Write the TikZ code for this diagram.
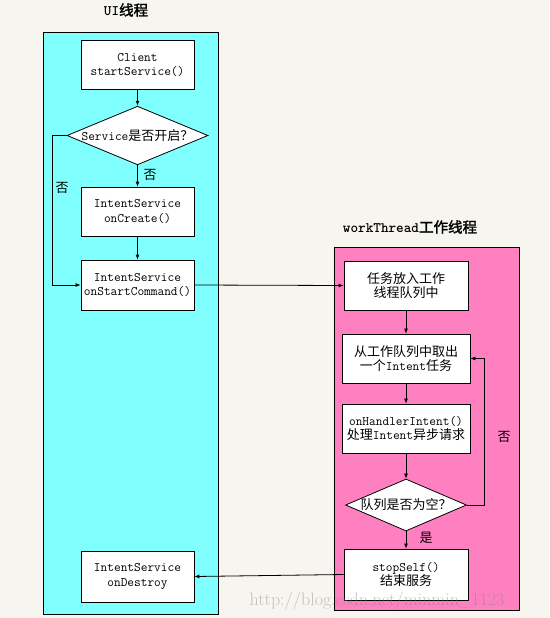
\documentclass[tikz,border=0pt]{standalone}
\usepackage{fontspec}
\newfontfamily\cjk[AutoFakeBold=2]{Noto Sans CJK SC}
\usetikzlibrary{shapes.geometric,arrows.meta}
\definecolor{bgc}{HTML}{F7F5F0}
\definecolor{cyanp}{HTML}{80FFFF}
\definecolor{pinkp}{HTML}{FF80C0}
\tikzset{
 txt/.style={font=\ttfamily\fontsize{13}{14.5}\selectfont},
 box/.style={txt,draw=black,fill=white,line width=0.8pt,align=center,inner sep=0pt},
 dia/.style={txt,draw=black,fill=white,line width=0.8pt,shape=diamond,inner sep=0pt,aspect=2.4},
 arr/.style={-{Latex[length=5pt,width=4pt]},line width=0.8pt},
 lbl/.style={font=\cjk\fontsize{13}{14}\selectfont,inner sep=0pt},
 ttl/.style={font=\ttfamily\bfseries\fontsize{14.5}{16}\selectfont,inner sep=0pt},
 panel/.style={draw=black,line width=0.8pt},
 wmark/.style={font=\rmfamily\fontsize{18}{19}\selectfont,text=gray,opacity=0.45,inner sep=0pt},
}
\begin{document}
\begin{tikzpicture}[x=1pt,y=-1pt]
\fill[bgc] (0,0) rectangle (549,618);
\useasboundingbox (0,0) rectangle (549,618);
\draw[panel,fill=cyanp] (43,32) rectangle (218,614);
\draw[panel,fill=pinkp] (334,247) rectangle (519,610);
\node[ttl] (t1) at (126,10) {UI{\cjk 线程}};
\node[ttl] (t2) at (410,227) {workThread{\cjk 工作线程}};
% left column
\node[box,minimum width=113pt,minimum height=49pt] (client) at (137.5,65) {Client\\startService()};
\node[dia,minimum width=141pt,minimum height=57pt] (d1) at (137.5,135.5) {Service{\cjk 是否开启？}};
\node[box,minimum width=113pt,minimum height=49pt] (create) at (137.5,211.5) {IntentService\\onCreate()};
\node[box,minimum width=113pt,minimum height=50pt] (start) at (137.5,285) {IntentService\\onStartCommand()};
\node[box,minimum width=113pt,minimum height=51pt] (destroy) at (137.5,576.5) {IntentService\\onDestroy};
% right column
\node[box,minimum width=124pt,minimum height=49pt] (b1) at (406,285.5) {{\cjk 任务放入工作}\\{\cjk 线程队列中}};
\node[box,minimum width=128pt,minimum height=49pt] (b2) at (406,358.5) {{\cjk 从工作队列中取出}\\{\cjk 一个}Intent{\cjk 任务}};
\node[box,minimum width=128pt,minimum height=49pt] (b3) at (406,428.5) {onHandlerIntent()\\{\cjk 处理}Intent{\cjk 异步请求}};
\node[dia,minimum width=121pt,minimum height=52pt] (d2) at (406,505) {{\cjk 队列是否为空？}};
\node[box,minimum width=124pt,minimum height=51pt] (stop) at (406,574.5) {stopSelf()\\{\cjk 结束服务}};
% connectors
\draw[arr] (client) -- (d1);
\draw[arr] (d1) -- (create);
\draw[arr] (create) -- (start);
\draw[arr] (d1.west) -- ++(-14,0) |- (start.west);
\draw[arr] (start.east) -- (b1.west);
\draw[arr] (b1) -- (b2);
\draw[arr] (b2) -- (b3);
\draw[arr] (b3) -- (d2);
\draw[arr] (d2) -- (stop);
\coordinate (loopc) at (484,505);
\draw[arr] (d2.east) -- (loopc) |- (b2.east);
\draw[arr] (stop.west) -- (destroy.east);
% labels
\node[lbl] (n1) at (150,175) {否};
\node[lbl] (n2) at (62,188) {否};
\node[lbl] (n3) at (426,538) {是};
\node[lbl] (n4) at (504,437) {否};
\node[wmark] (wm) at (377,601) {http://blog.csdn.net/minmin\_1123};
\end{tikzpicture}
\end{document}
